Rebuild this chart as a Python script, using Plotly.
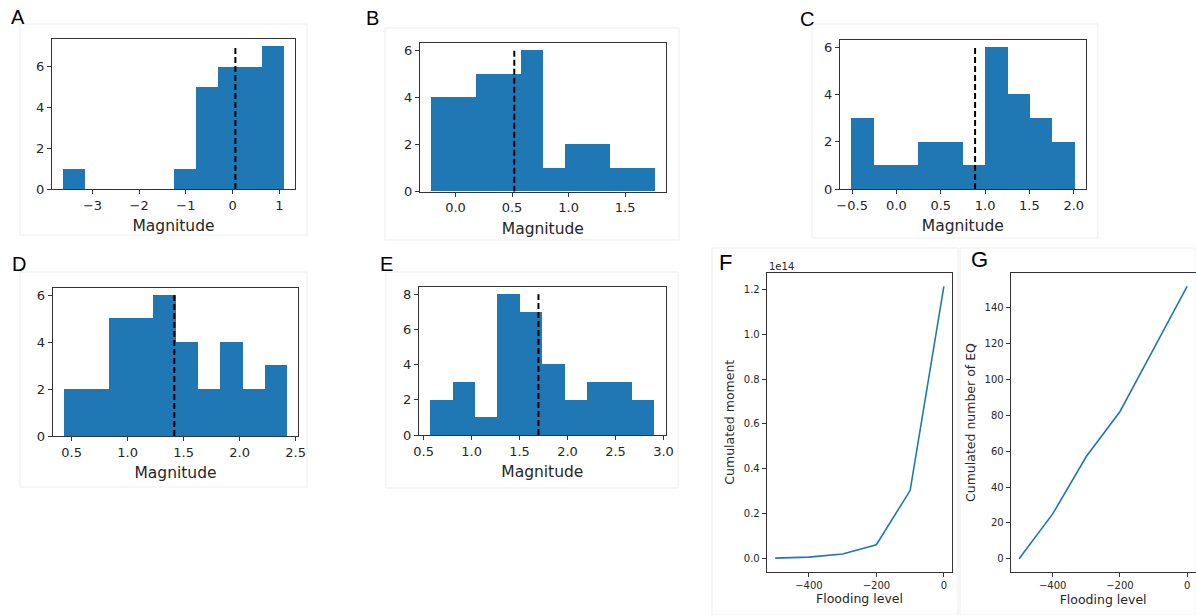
import numpy as np
import plotly.graph_objects as go

W, H = 1196, 615
BLUE = "#1f77b4"
FONT = "DejaVu Sans"

# ---------------- data ----------------
# Histogram panels A-E: bin edges, counts, dashed (mean) line
edges_A = [-3.63, -3.157, -2.684, -2.211, -1.738, -1.265, -0.792, -0.319, 0.154, 0.627, 1.10]
counts_A = [1, 0, 0, 0, 0, 1, 5, 6, 6, 7]
line_A = 0.06

edges_B = [-0.215, -0.018, 0.18, 0.378, 0.575, 0.773, 0.97, 1.168, 1.365, 1.563, 1.76]
counts_B = [4, 4, 5, 5, 6, 1, 2, 2, 1, 1]
line_B = 0.52

edges_C = [-0.511, -0.259, -0.007, 0.245, 0.497, 0.749, 1.001, 1.253, 1.505, 1.757, 2.009]
counts_C = [3, 1, 1, 2, 2, 1, 6, 4, 3, 2]
line_C = 0.887

edges_D = [0.431, 0.630, 0.830, 1.029, 1.228, 1.428, 1.627, 1.826, 2.025, 2.225, 2.424]
counts_D = [2, 2, 5, 5, 6, 4, 2, 4, 2, 3]
line_D = 1.417

edges_E = [0.569, 0.803, 1.036, 1.270, 1.504, 1.738, 1.971, 2.205, 2.439, 2.672, 2.906]
counts_E = [2, 3, 1, 8, 7, 4, 2, 3, 3, 2]
line_E = 1.697

# Line panels F, G
flood_level = [-500, -400, -300, -200, -100, 0]
cum_moment = [0.0, 0.0045e14, 0.018e14, 0.06e14, 0.302e14, 1.215e14]
cum_number = [0, 25, 57, 82, 117, 152]

# tick labels
xt_A = [-3, -2, -1, 0, 1]; xl_A = ["\u22123", "\u22122", "\u22121", "0", "1"]
xt_B = [0.0, 0.5, 1.0, 1.5]; xl_B = ["0.0", "0.5", "1.0", "1.5"]
xt_C = [-0.5, 0.0, 0.5, 1.0, 1.5, 2.0]; xl_C = ["\u22120.5", "0.0", "0.5", "1.0", "1.5", "2.0"]
xt_D = [0.5, 1.0, 1.5, 2.0, 2.5]; xl_D = ["0.5", "1.0", "1.5", "2.0", "2.5"]
xt_E = [0.5, 1.0, 1.5, 2.0, 2.5, 3.0]; xl_E = ["0.5", "1.0", "1.5", "2.0", "2.5", "3.0"]
yt_6 = [0, 2, 4, 6]
yt_8 = [0, 2, 4, 6, 8]
xt_FG = [-400, -200, 0]; xl_FG = ["\u2212400", "\u2212200", "0"]
yt_F = [0.0, 0.2e14, 0.4e14, 0.6e14, 0.8e14, 1.0e14, 1.2e14]
yl_F = ["0.0", "0.2", "0.4", "0.6", "0.8", "1.0", "1.2"]
yt_G = [0, 20, 40, 60, 80, 100, 120, 140]

# ---------------- layout helpers ----------------
def dom_x(a, b):
    return [a / W, b / W]

def dom_y(top, bot):
    return [1 - bot / H, 1 - top / H]

fig = go.Figure()
layout = dict(
    width=W, height=H, margin=dict(l=0, r=0, t=0, b=0),
    paper_bgcolor="white", plot_bgcolor="white", showlegend=False,
    bargap=0, barmode="overlay", font=dict(family=FONT, color="#262626"),
)

axis_common = dict(
    showgrid=False, zeroline=False, showline=True, mirror=True,
    linecolor="#333333", linewidth=1, ticks="outside", ticklen=4,
    tickcolor="#333333", tickwidth=1, automargin=False,
)

hist_panels = [
    ("A", edges_A, counts_A, line_A, (52, 295, 39, 189), xt_A, xl_A, yt_6),
    ("B", edges_B, counts_B, line_B, (420, 665.7, 43.3, 191.7), xt_B, xl_B, yt_6),
    ("C", edges_C, counts_C, line_C, (840, 1085.7, 40, 189), xt_C, xl_C, yt_6),
    ("D", edges_D, counts_D, line_D, (52.7, 298.3, 288.3, 436), xt_D, xl_D, yt_6),
    ("E", edges_E, counts_E, line_E, (419, 665.7, 287.3, 435), xt_E, xl_E, yt_8),
]

idx = 0
for name, edges, counts, mline, box, xt, xl, yt in hist_panels:
    idx += 1
    xa = "x" if idx == 1 else f"x{idx}"
    ya = "y" if idx == 1 else f"y{idx}"
    e = np.array(edges)
    centers = (e[:-1] + e[1:]) / 2
    widths = np.diff(e)
    fig.add_trace(go.Bar(x=centers, y=counts, width=widths, marker=dict(color=BLUE, line=dict(width=0)),
                         xaxis=xa, yaxis=ya))
    fig.add_trace(go.Scatter(x=[mline, mline], y=[0, max(counts)], mode="lines",
                             line=dict(color="black", width=2, dash="6px,3px"), xaxis=xa, yaxis=ya))
    span = e[-1] - e[0]
    xr = [e[0] - 0.05 * span, e[-1] + 0.05 * span]
    yr = [0, max(counts) * 1.05]
    l, r, t, b = box
    kx = "xaxis" if idx == 1 else f"xaxis{idx}"
    ky = "yaxis" if idx == 1 else f"yaxis{idx}"
    layout[kx] = dict(axis_common, domain=dom_x(l, r), anchor=ya, range=xr,
                      tickvals=xt, ticktext=xl, tickfont=dict(size=13),
                      title=dict(text="Magnitude", font=dict(size=15.5), standoff=8))
    layout[ky] = dict(axis_common, domain=dom_y(t, b), anchor=xa, range=yr,
                      tickvals=yt, tickfont=dict(size=13))

# Line panels
line_panels = [
    ("F", cum_moment, (766.7, 952.3, 272.7, 571.7), yt_F, yl_F, "Cumulated moment"),
    ("G", cum_number, (1010.7, 1195.5, 272.7, 572.3), yt_G, [str(v) for v in yt_G], "Cumulated number of EQ"),
]
for name, vals, box, yt, yl, ytitle in line_panels:
    idx += 1
    xa, ya = f"x{idx}", f"y{idx}"
    fig.add_trace(go.Scatter(x=flood_level, y=vals, mode="lines", line=dict(color=BLUE, width=1.6),
                             xaxis=xa, yaxis=ya))
    xspan = max(flood_level) - min(flood_level)
    yspan = max(vals) - min(vals)
    l, r, t, b = box
    layout[f"xaxis{idx}"] = dict(axis_common, domain=dom_x(l, r), anchor=ya,
                                 range=[min(flood_level) - 0.05 * xspan, max(flood_level) + 0.05 * xspan],
                                 tickvals=xt_FG, ticktext=xl_FG, tickfont=dict(size=10),
                                 title=dict(text="Flooding level", font=dict(size=12.5), standoff=4))
    layout[f"yaxis{idx}"] = dict(axis_common, domain=dom_y(t, b), anchor=xa,
                                 range=[min(vals) - 0.05 * yspan, max(vals) + 0.05 * yspan],
                                 tickvals=yt, ticktext=yl, tickfont=dict(size=10),
                                 title=dict(text=ytitle, font=dict(size=12.5), standoff=6))

# Panel letters
letters = [("A", 18, 17, 20), ("B", 372, 18, 20), ("C", 807, 19, 20), ("D", 19, 264, 20),
           ("E", 386, 264, 20), ("F", 725, 262, 22), ("G", 979, 259, 22)]
annotations = []
for txt, x, y, s in letters:
    annotations.append(dict(text=txt, x=x / W, y=1 - y / H, xref="paper", yref="paper",
                            showarrow=False, xanchor="center", yanchor="middle",
                            font=dict(family="Liberation Sans", size=s, color="black")))
annotations.append(dict(text="1e14", x=767 / W, y=1 - 266 / H, xref="paper", yref="paper",
                        showarrow=False, xanchor="left", yanchor="middle",
                        font=dict(family=FONT, size=10, color="#262626")))
layout["annotations"] = annotations

# faint frames of the composed sub-figures
frames = [(20, 24, 307, 235), (385, 28, 679, 240), (812, 24, 1098, 238),
          (20, 272, 307, 487), (386, 272, 678, 488), (712, 248, 958, 615), (960, 248, 1196, 615)]
shapes = []
for x0, y0, x1, y1 in frames:
    shapes.append(dict(type="rect", xref="paper", yref="paper", x0=x0 / W, x1=x1 / W,
                       y0=1 - y1 / H, y1=1 - y0 / H, line=dict(color="#ededed", width=1),
                       fillcolor="rgba(0,0,0,0)", layer="below"))
layout["shapes"] = shapes

fig.update_layout(**layout)
fig.write_html("out.html")
